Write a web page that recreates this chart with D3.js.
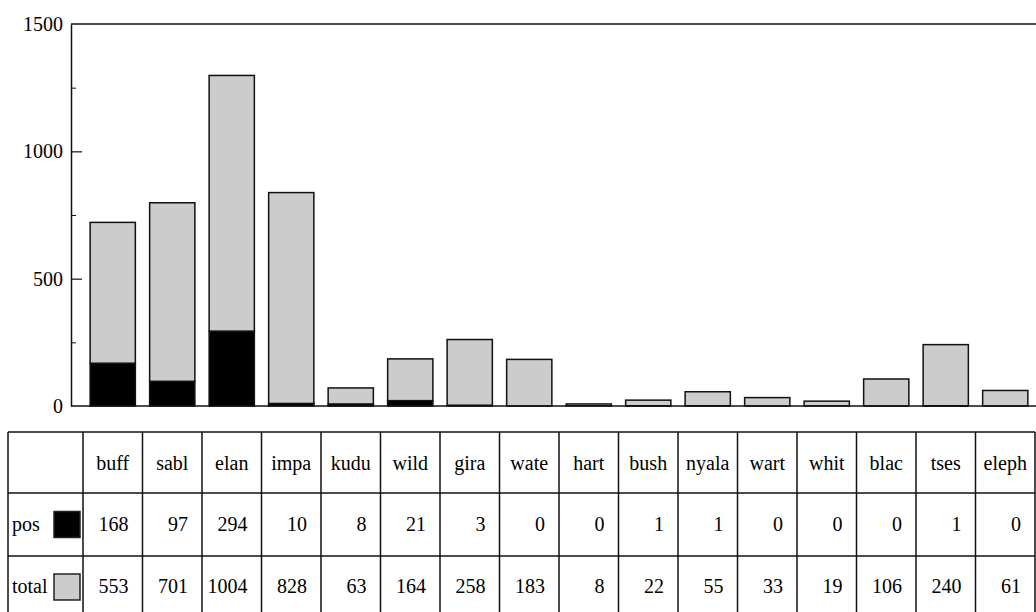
<!DOCTYPE html>
<html>
<head>
<meta charset="utf-8">
<script src="https://cdn.jsdelivr.net/npm/d3@7"></script>
<style>
  body { margin: 0; background: #fff; }
  text { font-family: "Liberation Serif", "Times New Roman", serif; font-size: 20px; fill: #000; }
</style>
</head>
<body>
<div id="chart"></div>
<script>
// data
const categories = ["buff", "sabl", "elan", "impa", "kudu", "wild", "gira", "wate", "hart", "bush", "nyala", "wart", "whit", "blac", "tses", "eleph"];
const posValues = [168, 97, 294, 10, 8, 21, 3, 0, 0, 1, 1, 0, 0, 0, 1, 0];
const totalValues = [553, 701, 1004, 828, 63, 164, 258, 183, 8, 22, 55, 33, 19, 106, 240, 61];
const seriesNames = ["pos", "total"];
const seriesColors = ["#000000", "#cccccc"];
const majorTicks = [0, 500, 1000, 1500];
const minorTicks = [250, 750, 1250];

const width = 1036, height = 612;
const plot = {left: 71, top: 24, right: 1036, bottom: 406};
const table = {left: 8, right: 1035, firstCol: 83, rows: [432, 493, 556, 618]};

const svg = d3.select("#chart").append("svg")
  .attr("width", width)
  .attr("height", height);

const rows = categories.map((c, i) => ({cat: c, pos: posValues[i], total: totalValues[i]}));
const stacked = d3.stack().keys(seriesNames)(rows);

const x = d3.scaleBand()
  .domain(categories)
  .range([table.firstCol, table.right]);
const barW = x.bandwidth() * 0.76;

const y = d3.scaleLinear()
  .domain([0, 1500])
  .range([plot.bottom, plot.top]);

// bars
const layers = svg.append("g").selectAll("g")
  .data(stacked)
  .join("g")
  .attr("fill", (d, i) => seriesColors[i]);

layers.selectAll("rect")
  .data(d => d)
  .join("rect")
  .attr("x", d => x(d.data.cat) + (x.bandwidth() - barW) / 2)
  .attr("width", barW)
  .attr("y", d => y(d[1]))
  .attr("height", d => y(d[0]) - y(d[1]))
  .attr("stroke", "#111")
  .attr("stroke-width", 1.5);

// frame lines
const frame = svg.append("g").attr("stroke", "#111").attr("stroke-width", 1.5);
frame.append("line").attr("x1", plot.left).attr("x2", plot.right).attr("y1", y(1500)).attr("y2", y(1500));
frame.append("line").attr("x1", plot.left).attr("x2", plot.right).attr("y1", y(0)).attr("y2", y(0));

// y axis: labels on the left, ticks pointing inward
svg.append("g")
  .attr("transform", `translate(${plot.left},0)`)
  .call(d3.axisLeft(y).tickValues(majorTicks).tickSize(0).tickPadding(8).tickFormat(d3.format("d")))
  .call(g => g.selectAll("text").style("font-family", "Liberation Serif").style("font-size", "20px"))
  .call(g => g.select(".domain").attr("stroke", "#111").attr("stroke-width", 1.5));

svg.append("g")
  .attr("transform", `translate(${plot.left},0)`)
  .call(d3.axisRight(y).tickValues([500, 1000]).tickSize(11).tickFormat(""))
  .call(g => g.select(".domain").remove())
  .call(g => g.selectAll("line").attr("stroke", "#111").attr("stroke-width", 1.2));

svg.append("g")
  .attr("transform", `translate(${plot.left},0)`)
  .call(d3.axisRight(y).tickValues(minorTicks).tickSize(5).tickFormat(""))
  .call(g => g.select(".domain").remove())
  .call(g => g.selectAll("line").attr("stroke", "#111").attr("stroke-width", 1));

// data table
const tbl = svg.append("g");
const tlines = tbl.append("g").attr("stroke", "#111").attr("stroke-width", 1.5);
table.rows.forEach(ry => {
  tlines.append("line").attr("x1", table.left).attr("x2", table.right).attr("y1", ry).attr("y2", ry);
});
const colEdges = [table.left, table.firstCol].concat(categories.map(c => x(c) + x.bandwidth()));
colEdges.forEach(cx => {
  tlines.append("line").attr("x1", cx).attr("x2", cx)
    .attr("y1", table.rows[0]).attr("y2", table.rows[3]);
});

// header
tbl.selectAll("text.head")
  .data(categories)
  .join("text")
  .attr("class", "head")
  .attr("x", d => x(d) + x.bandwidth() / 2)
  .attr("y", table.rows[0] + 38)
  .attr("text-anchor", "middle")
  .text(d => d);

// series rows
[posValues, totalValues].forEach((vals, r) => {
  const top = table.rows[r + 1];
  const bot = table.rows[r + 2];
  const mid = (top + bot) / 2;
  tbl.append("text")
    .attr("x", 12)
    .attr("y", mid + 6)
    .text(seriesNames[r]);
  tbl.append("rect")
    .attr("x", 54).attr("y", mid - 13)
    .attr("width", 26).attr("height", 26)
    .attr("fill", seriesColors[r])
    .attr("stroke", "#222").attr("stroke-width", 1.5);
  tbl.selectAll(null)
    .data(vals)
    .join("text")
    .attr("x", (d, i) => x(categories[i]) + x.bandwidth() - 14)
    .attr("y", mid + 6)
    .attr("text-anchor", "end")
    .text(d => d);
});
</script>
</body>
</html>
